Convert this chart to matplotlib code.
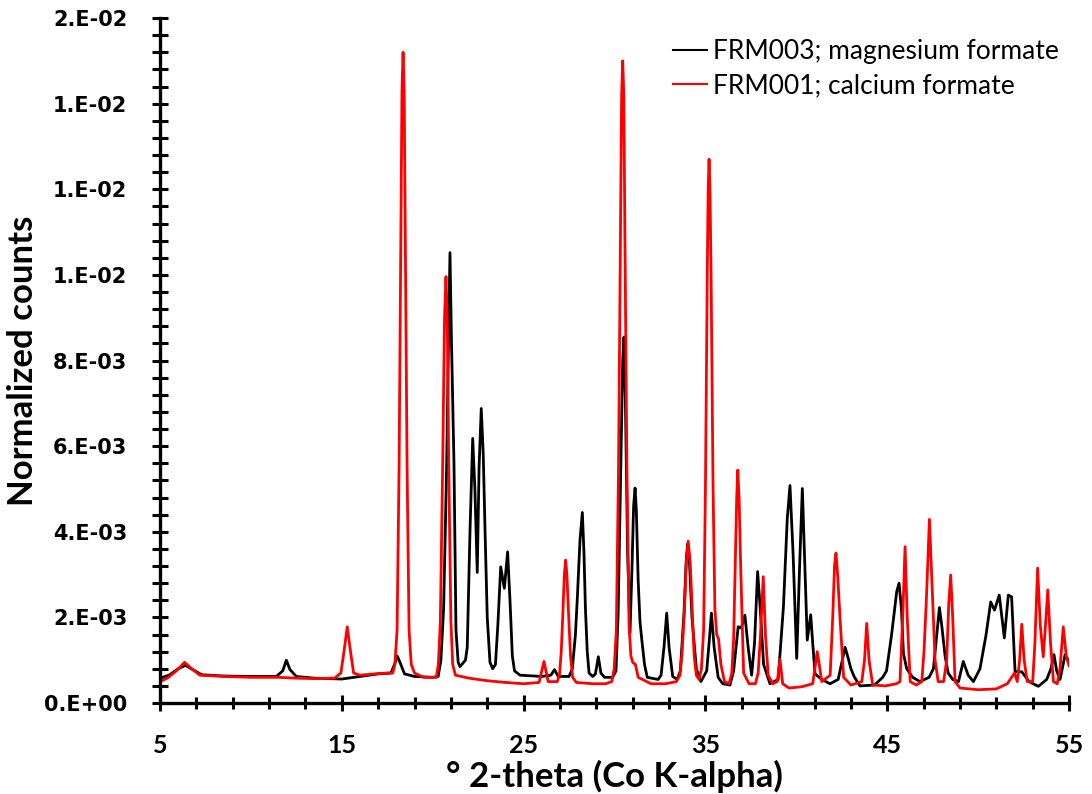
import matplotlib
matplotlib.use("Agg")
import matplotlib.pyplot as plt
from matplotlib.ticker import MultipleLocator, FuncFormatter
import numpy as np

# FRM003; magnesium formate  (2-theta, normalized counts x 1e-3)
mg_x = [5.0, 5.5, 6.0, 6.4, 6.8, 7.3, 8.5, 10.0, 11.4, 11.75, 11.95, 12.15, 12.5, 13.5, 15.0,
        16.0, 17.0, 17.7, 17.9, 18.05, 18.2, 18.45, 19.0, 20.0, 20.3, 20.45, 20.6, 20.77,
        20.87, 20.95, 21.03, 21.17, 21.28, 21.4, 21.5, 21.6, 21.8, 21.9, 22.05, 22.2, 22.32,
        22.45, 22.55, 22.67, 22.78, 22.88, 23.0, 23.15, 23.3, 23.45, 23.58, 23.74, 23.85,
        23.94, 24.03, 24.12, 24.25, 24.38, 24.5, 24.8, 26.0, 26.5, 26.7, 26.9, 27.5, 27.68,
        27.85, 27.96, 28.1, 28.23, 28.32, 28.4, 28.5, 28.6, 28.8, 28.95, 29.11, 29.25, 29.45,
        29.9, 30.08, 30.2, 30.33, 30.45, 30.52, 30.6, 30.72, 30.85, 30.95, 31.05, 31.13,
        31.2, 31.3, 31.4, 31.5, 31.65, 31.8, 32.4, 32.56, 32.72, 32.87, 33.0, 33.2, 33.45,
        33.62, 33.82, 33.95, 34.03, 34.12, 34.26, 34.5, 34.75, 35.07, 35.2, 35.33, 35.48,
        35.7, 35.95, 36.35, 36.55, 36.8, 36.97, 37.17, 37.35, 37.54, 37.7, 37.87, 38.0, 38.2,
        38.55, 39.0, 39.29, 39.5, 39.65, 39.82, 40.02, 40.18, 40.33, 40.48, 40.6, 40.79,
        40.9, 41.03, 41.4, 41.85, 42.3, 42.5, 42.68, 42.85, 43.0, 43.2, 43.5, 44.3, 44.75,
        44.96, 45.24, 45.52, 45.65, 45.78, 45.89, 46.07, 46.4, 46.8, 47.3, 47.54, 47.7,
        47.87, 48.0, 48.18, 48.35, 48.6, 48.92, 49.18, 49.45, 49.74, 50.1, 50.43, 50.69,
        50.9, 51.16, 51.44, 51.66, 51.84, 52.03, 52.4, 52.8, 53.31, 53.77, 54.0, 54.17,
        54.32, 54.5, 54.65, 54.78, 55.0]
mg_y = [0.58, 0.65, 0.80, 0.88, 0.78, 0.66, 0.63, 0.62, 0.62, 0.75, 1.00, 0.78, 0.62, 0.58, 0.56,
        0.62, 0.68, 0.70, 0.90, 1.10, 0.95, 0.68, 0.62, 0.60, 0.62, 1.0, 2.2, 5.6,
        8.5, 10.52, 8.5, 5.6, 1.7, 0.95, 0.85, 0.90, 1.0, 1.3, 4.0, 6.18, 5.0,
        3.05, 5.5, 6.88, 5.8, 4.0, 2.0, 0.95, 0.80, 0.90, 1.8, 3.18, 2.9,
        2.68, 3.1, 3.53, 2.4, 1.1, 0.75, 0.65, 0.62, 0.65, 0.78, 0.62, 0.62, 0.80,
        1.6, 2.5, 3.8, 4.45, 3.5, 2.2, 1.2, 0.70, 0.62, 0.68, 1.08, 0.70, 0.60,
        0.60, 0.75, 2.1, 5.1, 8.0, 8.55, 7.0, 3.5, 1.63, 3.0, 4.6, 5.02,
        4.5, 2.87, 1.9, 1.48, 0.90, 0.60, 0.55, 0.65, 1.3, 2.1, 1.3, 0.62, 0.55,
        0.75, 2.1, 3.4, 3.72, 3.3, 2.0, 0.80, 0.50, 0.75, 1.4, 2.1, 1.3,
        0.60, 0.45, 0.42, 0.75, 1.78, 1.75, 2.05, 1.3, 0.65, 1.4, 3.07, 2.3, 0.90,
        0.45, 0.55, 2.25, 4.3, 5.08, 3.5, 1.04, 3.2, 5.01, 3.0, 1.47, 2.06,
        1.4, 0.68, 0.55, 0.45, 0.55, 0.95, 1.3, 1.05, 0.80, 0.60, 0.40, 0.42, 0.60,
        0.75, 1.6, 2.6, 2.8, 2.2, 1.16, 0.80, 0.60, 0.50, 0.60, 0.80, 1.5,
        2.23, 1.8, 1.1, 0.70, 0.55, 0.50, 0.97, 0.65, 0.50, 0.80, 1.58, 2.36,
        2.17, 2.52, 1.52, 2.52, 2.48, 0.73, 0.73, 0.50, 0.39, 0.55, 0.80, 1.13,
        0.75, 0.55, 0.85, 1.13, 0.97]

# FRM001; calcium formate
ca_x = [5.0, 5.4, 5.9, 6.35, 6.8, 7.2, 8.5, 10.0, 11.5, 12.5, 13.5, 14.6, 14.95, 15.12, 15.3,
        15.48, 15.65, 16.0, 16.8, 17.5, 17.8, 17.92, 18.04, 18.15, 18.25, 18.31, 18.37,
        18.43, 18.49, 18.59, 18.7, 18.82, 19.0, 19.5, 20.2, 20.31, 20.42, 20.55, 20.65,
        20.73, 20.8, 20.88, 21.0, 21.1, 21.25, 22.0, 23.0, 24.0, 25.0, 25.85, 26.12, 26.35,
        26.85, 26.97, 27.07, 27.15, 27.24, 27.31, 27.38, 27.48, 27.58, 27.7, 27.9, 28.8,
        29.5, 29.85, 29.98, 30.1, 30.22, 30.33, 30.39, 30.45, 30.51, 30.57, 30.68, 30.8,
        30.9, 31.0, 31.15, 31.3, 32.0, 32.8, 33.4, 33.6, 33.72, 33.84, 33.95, 34.05, 34.16,
        34.28, 34.38, 34.5, 34.65, 34.78, 34.9, 35.0, 35.1, 35.15, 35.2, 35.25, 35.31, 35.42,
        35.52, 35.62, 35.72, 35.85, 36.05, 36.3, 36.45, 36.55, 36.63, 36.72, 36.78, 36.85,
        36.95, 37.1, 37.4, 37.75, 37.9, 38.03, 38.18, 38.3, 38.45, 38.7, 38.95, 39.1, 39.25,
        39.6, 40.3, 40.9, 41.15, 41.4, 41.86, 42.0, 42.1, 42.18, 42.27, 42.4, 42.6, 43.0,
        43.6, 43.75, 43.87, 44.0, 44.2, 44.9, 45.5, 45.7, 45.85, 45.98, 46.1, 46.26, 46.6,
        46.9, 47.02, 47.15, 47.32, 47.5, 47.63, 47.8, 48.1, 48.27, 48.38, 48.49, 48.6, 48.73,
        49.0, 50.0, 51.0, 51.6, 52.0, 52.15, 52.28, 52.4, 52.53, 52.7, 53.0, 53.12, 53.27,
        53.42, 53.58, 53.7, 53.83, 53.98, 54.14, 54.35, 54.5, 54.68, 54.85, 55.0]
ca_y = [0.50, 0.58, 0.75, 0.95, 0.78, 0.65, 0.62, 0.60, 0.60, 0.58, 0.57, 0.58, 0.70, 1.2, 1.78,
        1.2, 0.70, 0.65, 0.68, 0.70, 0.70, 0.90, 1.7, 5.5, 11.0, 14.3, 15.2,
        14.3, 11.0, 5.5, 1.7, 0.90, 0.70, 0.60, 0.60, 0.90, 1.9, 5.6, 9.0,
        9.96, 9.0, 5.6, 1.9, 0.90, 0.65, 0.58, 0.52, 0.48, 0.45, 0.48, 0.97, 0.50,
        0.50, 0.65, 1.2, 2.0, 3.0, 3.34, 3.0, 2.0, 1.1, 0.60, 0.48, 0.45,
        0.45, 0.50, 0.80, 1.7, 5.5, 11.0, 14.2, 15.0, 14.2, 11.0, 5.5, 1.8,
        1.1, 0.95, 0.90, 0.60, 0.45, 0.45, 0.50, 0.65, 1.2, 2.1, 3.3, 3.78, 3.3,
        2.1, 1.1, 0.65, 0.55, 0.80, 1.7, 5.0, 10.0, 12.0, 12.7, 12.0, 10.0, 5.0,
        2.2, 1.6, 1.5, 0.90, 0.50, 0.45, 0.70, 1.5, 3.0, 4.8, 5.44, 4.8,
        3.0, 0.70, 0.45, 0.45, 0.70, 1.6, 2.95, 1.6, 0.65, 0.45, 0.50, 1.02, 0.45,
        0.35, 0.38, 0.45, 1.2, 0.50, 0.65, 2.0, 3.2, 3.5, 3.0, 2.0, 0.60, 0.42,
        0.50, 1.0, 1.86, 1.0, 0.42, 0.40, 0.45, 0.50, 2.0, 3.65, 2.0, 0.50, 0.42,
        0.50, 1.2, 2.4, 4.29, 2.4, 1.0, 0.50, 0.50, 1.0, 2.3, 2.99, 2.0, 0.50,
        0.35, 0.31, 0.33, 0.45, 0.70, 0.50, 1.0, 1.84, 1.0, 0.50, 0.50, 1.4, 3.15,
        1.8, 1.08, 1.8, 2.64, 1.4, 0.50, 0.45, 0.80, 1.78, 1.08, 0.87]

fig = plt.figure(figsize=(10.92, 7.94), dpi=100)
ax = fig.add_axes([0.1465, 0.1146, 0.8325, 0.8627])

ax.plot(mg_x, np.array(mg_y) * 1e-3, color='black', lw=2.0, label='FRM003; magnesium formate')
ax.plot(ca_x, np.array(ca_y) * 1e-3, color='#ff0000', lw=2.0, label='FRM001; calcium formate')

ax.set_xlim(5, 55)
ax.set_ylim(0, 0.016)
ax.xaxis.set_major_locator(MultipleLocator(10, offset=5))
ax.xaxis.set_minor_locator(MultipleLocator(2, offset=1))
ax.yaxis.set_major_locator(MultipleLocator(0.002))
ax.yaxis.set_minor_locator(MultipleLocator(0.0004))
ax.yaxis.set_major_formatter(FuncFormatter(lambda v, p: '%#.0E' % v))

for s in ['top', 'right']:
    ax.spines[s].set_visible(False)
for s in ['left', 'bottom']:
    ax.spines[s].set_linewidth(2.4)

ax.tick_params(which='major', direction='inout', length=11, width=2.2)
ax.tick_params(which='minor', direction='inout', length=8, width=2.2)
ax.tick_params(axis='y', which='both', length=11, pad=18)
ax.tick_params(axis='x', pad=17)

for lab in ax.get_yticklabels():
    lab.set_fontfamily('DejaVu Sans')
    lab.set_fontweight('bold')
    lab.set_fontsize(15)
for lab in ax.get_xticklabels():
    lab.set_fontfamily('Lato')
    lab.set_fontweight('bold')
    lab.set_fontsize(18)

ax.set_xlabel('° 2-theta (Co K-alpha)', fontfamily='Lato', fontweight='bold', fontsize=25, labelpad=2)
ax.set_ylabel('Normalized counts', fontfamily='Lato', fontweight='bold', fontsize=25, labelpad=4)

leg = ax.legend(loc='upper right', frameon=False, prop={'family': 'Lato', 'size': 19},
                handlelength=1.3, handletextpad=0.2, borderaxespad=0.0, labelspacing=0.35,
                bbox_to_anchor=(1.0, 0.985))
for h in leg.get_lines():
    h.set_linewidth(1.5)

fig.savefig('out.png', dpi=100)
